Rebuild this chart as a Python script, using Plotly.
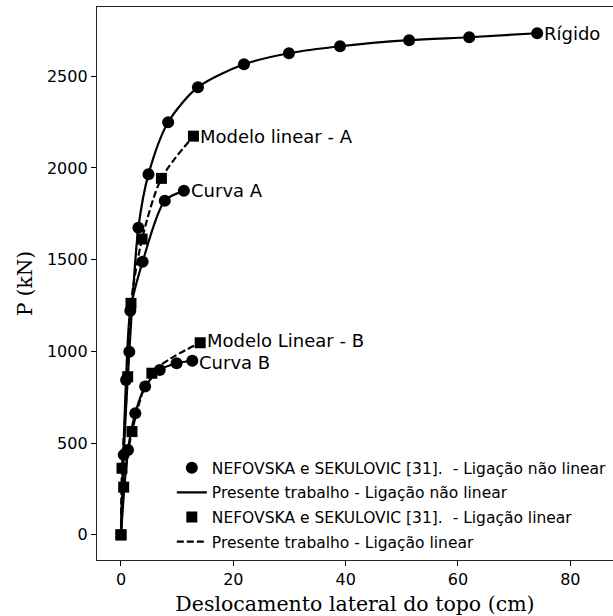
import plotly.graph_objects as go

# Load (kN) versus top lateral displacement (cm)
rigido_x = [0, 0.48, 1.48, 3.1, 4.9, 8.4, 13.7, 21.9, 29.9, 39.0, 51.3, 62.0, 74.1]
rigido_y = [0, 436, 998, 1674, 1966, 2249, 2440, 2565, 2625, 2663, 2696, 2712, 2734]

curva_a_x = [0, 0.9, 1.66, 3.86, 7.8, 11.2]
curva_a_y = [0, 844, 1222, 1489, 1821, 1875]

curva_b_x = [0, 1.25, 2.55, 4.3, 6.9, 9.9, 12.7]
curva_b_y = [0, 463, 663, 808, 899, 935, 949]

linear_a_x = [0, 0.18, 1.19, 1.78, 3.75, 7.2, 12.9]
linear_a_y = [0, 363, 862, 1262, 1612, 1943, 2173]

linear_b_x = [0, 0.48, 1.96, 5.5, 14.1]
linear_b_y = [0, 260, 563, 881, 1047]

# (label, series x, series y, vertical nudge in px)
end_labels = [
    ("Rígido", rigido_x, rigido_y, 0),
    ("Curva A", curva_a_x, curva_a_y, 0),
    ("Curva B", curva_b_x, curva_b_y, -2),
    ("Modelo linear - A", linear_a_x, linear_a_y, 0),
    ("Modelo Linear - B", linear_b_x, linear_b_y, 2),
]

x_ticks = [0, 20, 40, 60, 80]
y_ticks = [0, 500, 1000, 1500, 2000, 2500]


def join(*series):
    out = []
    for i, s in enumerate(series):
        if i:
            out.append(None)
        out.extend(s)
    return out


INK = "black"
SANS = "DejaVu Sans"
SERIF = "DejaVu Serif"

fig = go.Figure()

fig.add_trace(go.Scatter(
    x=rigido_x[1:] + curva_a_x[1:] + curva_b_x[1:],
    y=rigido_y[1:] + curva_a_y[1:] + curva_b_y[1:],
    mode="markers",
    marker=dict(symbol="circle", size=12, color=INK),
    name="NEFOVSKA e SEKULOVIC [31].  - Ligação não linear",
    legendgroup="g1",
))
fig.add_trace(go.Scatter(
    x=join(rigido_x, curva_a_x, curva_b_x),
    y=join(rigido_y, curva_a_y, curva_b_y),
    mode="lines",
    line=dict(color=INK, width=2.2, shape="spline", smoothing=0.8),
    name="Presente trabalho - Ligação não linear",
    legendgroup="g2",
))
fig.add_trace(go.Scatter(
    x=linear_a_x + linear_b_x,
    y=linear_a_y + linear_b_y,
    mode="markers",
    marker=dict(symbol="square", size=11, color=INK),
    name="NEFOVSKA e SEKULOVIC [31].  - Ligação linear",
    legendgroup="g3",
))
fig.add_trace(go.Scatter(
    x=join(linear_a_x, linear_b_x),
    y=join(linear_a_y, linear_b_y),
    mode="lines",
    line=dict(color=INK, width=2.2, dash="7px,3px", shape="spline", smoothing=0.8),
    name="Presente trabalho - Ligação linear",
    legendgroup="g4",
))

for text, xs, ys, dy in end_labels:
    fig.add_annotation(
        x=xs[-1], y=ys[-1], text=text, showarrow=False,
        xanchor="left", yanchor="middle", xshift=5, yshift=dy,
        font=dict(family=SANS, size=18, color=INK),
    )

fig.update_layout(
    width=613, height=616,
    margin=dict(l=97, r=0, t=7, b=56),
    paper_bgcolor="white", plot_bgcolor="white",
    showlegend=True,
    legend=dict(
        x=0.145, y=0.197, xanchor="left", yanchor="top",
        font=dict(family=SANS, size=15.5, color=INK),
        bgcolor="rgba(0,0,0,0)", tracegroupgap=1.5,
        traceorder="grouped",
    ),
    font=dict(family=SANS, color=INK),
)
fig.update_xaxes(
    range=[-4.27, 87.6], tickvals=x_ticks, ticks="outside", ticklen=5, tickwidth=1,
    tickcolor=INK, showline=True, linecolor="#222", linewidth=1.3, mirror=True,
    showgrid=False, zeroline=False,
    tickfont=dict(family=SANS, size=16, color=INK),
    title=dict(text="Deslocamento lateral do topo (cm)",
               font=dict(family=SERIF, size=20.5, color=INK), standoff=8),
)
fig.update_yaxes(
    range=[-137, 2877], tickvals=y_ticks, ticks="outside", ticklen=5, tickwidth=1,
    tickcolor=INK, showline=True, linecolor="#222", linewidth=1.3, mirror=False,
    showgrid=False, zeroline=False,
    tickfont=dict(family=SANS, size=16, color=INK),
    title=dict(text="P (kN)", font=dict(family=SERIF, size=20, color=INK), standoff=8),
)

fig.write_html("out.html")
